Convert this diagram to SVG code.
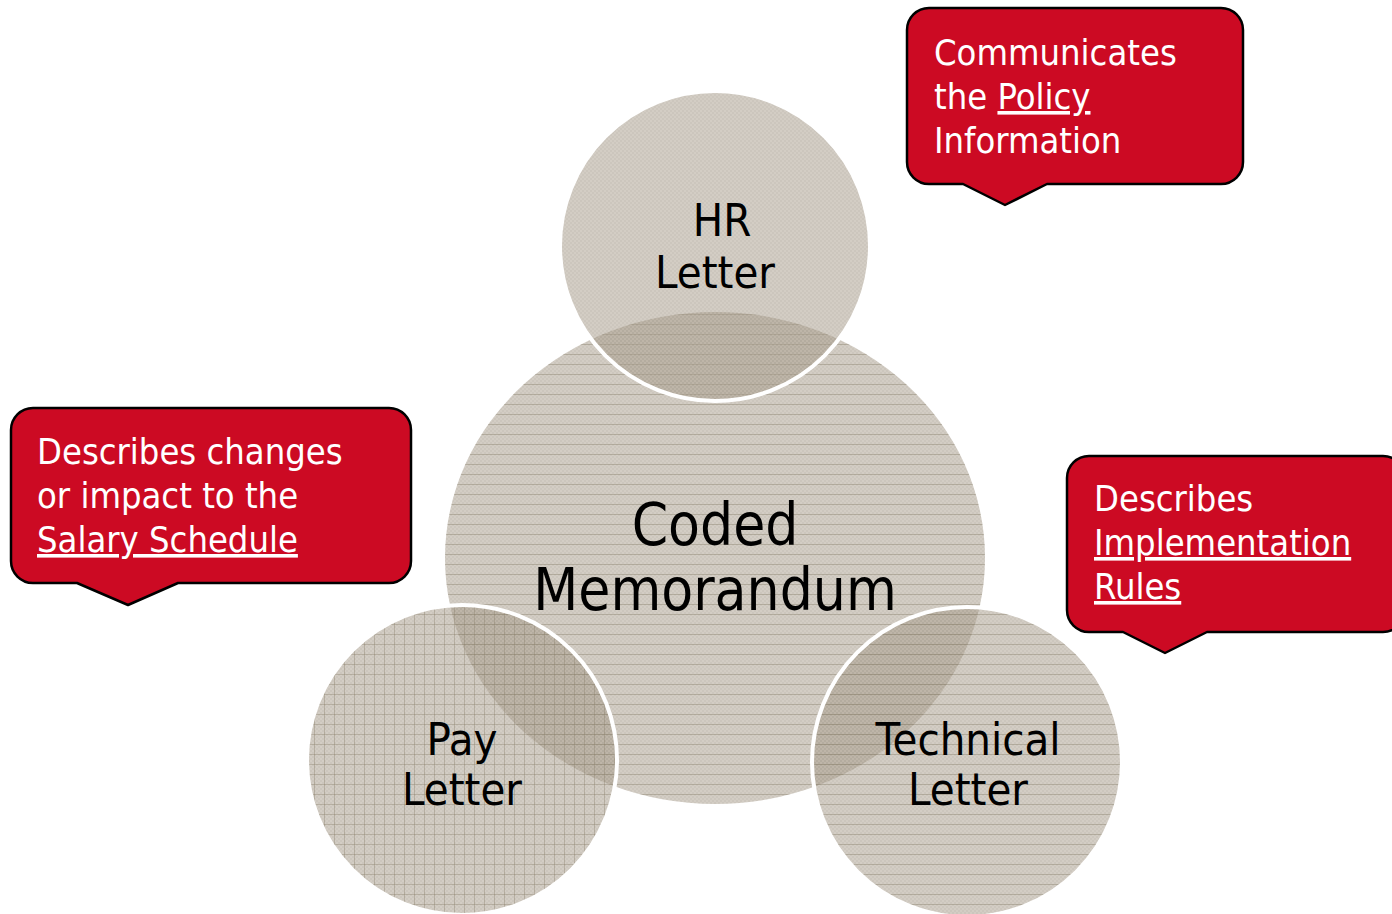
<svg xmlns="http://www.w3.org/2000/svg" width="1392" height="914" viewBox="0 0 1392 914">
  <style>
    .label { font-family: "DejaVu Sans Condensed", "DejaVu Sans", sans-serif; font-stretch: condensed; fill: #000; text-anchor: middle; }
    .note { font-family: "DejaVu Sans Condensed", "DejaVu Sans", sans-serif; font-stretch: condensed; font-size: 36px; fill: #fff; }
    .bubble { fill: #cc0a23; stroke: #000; stroke-width: 2.5; stroke-linejoin: round; }
    .tone { fill: #aba190; fill-opacity: 0.53; }
    .ring { fill: none; stroke: #fff; stroke-width: 4; }
    .u { text-decoration: underline; }
  </style>
  <defs>
    <!-- fine woven texture shared by every disc -->
    <pattern id="weave" width="4" height="4" patternUnits="userSpaceOnUse">
      <rect x="0" y="0" width="2" height="2" fill="#000" fill-opacity="0.035"/>
      <rect x="2" y="2" width="2" height="2" fill="#000" fill-opacity="0.035"/>
    </pattern>
    <!-- horizontal ruling -->
    <pattern id="rules" width="10" height="10" patternUnits="userSpaceOnUse">
      <rect x="0" y="4" width="10" height="1" fill="#8c826f" fill-opacity="0.45"/>
    </pattern>
    <!-- square grid -->
    <pattern id="grid" width="10" height="10" patternUnits="userSpaceOnUse">
      <rect x="0" y="4" width="10" height="1" fill="#8c826f" fill-opacity="0.4"/>
      <rect x="4" y="0" width="1" height="10" fill="#8c826f" fill-opacity="0.4"/>
    </pattern>
  </defs>

  <!-- central disc -->
  <g id="coded-memorandum">
    <ellipse class="tone" cx="715" cy="558" rx="270" ry="246"/>
    <ellipse cx="715" cy="558" rx="270" ry="246" fill="url(#weave)"/>
    <ellipse cx="715" cy="558" rx="270" ry="246" fill="url(#rules)"/>
    <text class="label" font-size="58" x="715" y="545">Coded</text>
    <text class="label" font-size="58" x="715" y="610">Memorandum</text>
  </g>

  <!-- satellite discs -->
  <g id="hr-letter">
    <circle class="tone" cx="715" cy="246" r="155"/>
    <circle cx="715" cy="246" r="155" fill="url(#weave)"/>
    <circle class="ring" cx="715" cy="246" r="155"/>
    <text class="label" font-size="45" x="722" y="236">HR</text>
    <text class="label" font-size="45" x="715" y="288">Letter</text>
  </g>

  <g id="pay-letter">
    <circle class="tone" cx="462" cy="760" r="155"/>
    <circle cx="462" cy="760" r="155" fill="url(#weave)"/>
    <circle cx="462" cy="760" r="155" fill="url(#grid)"/>
    <circle class="ring" cx="462" cy="760" r="155"/>
    <text class="label" font-size="45" x="462" y="755">Pay</text>
    <text class="label" font-size="45" x="462" y="805">Letter</text>
  </g>

  <g id="technical-letter">
    <circle class="tone" cx="967" cy="762" r="155"/>
    <circle cx="967" cy="762" r="155" fill="url(#weave)"/>
    <circle cx="967" cy="762" r="155" fill="url(#rules)"/>
    <circle class="ring" cx="967" cy="762" r="155"/>
    <text class="label" font-size="45" x="968" y="755">Technical</text>
    <text class="label" font-size="45" x="968" y="805">Letter</text>
  </g>

  <!-- speech-bubble notes -->
  <g id="note-policy">
    <path class="bubble" d="M929 8 H1221 A22 22 0 0 1 1243 30 V162 A22 22 0 0 1 1221 184 H1047 L1005 205 L963 184 H929 A22 22 0 0 1 907 162 V30 A22 22 0 0 1 929 8 Z"/>
    <text class="note" x="934" y="65">Communicates</text>
    <text class="note" x="934" y="109">the <tspan class="u">Policy</tspan></text>
    <text class="note" x="934" y="153">Information</text>
  </g>

  <g id="note-salary">
    <path class="bubble" d="M33 408 H389 A22 22 0 0 1 411 430 V561 A22 22 0 0 1 389 583 H178 L128 605 L77 583 H33 A22 22 0 0 1 11 561 V430 A22 22 0 0 1 33 408 Z"/>
    <text class="note" x="37" y="464">Describes changes</text>
    <text class="note" x="37" y="508">or impact to the</text>
    <text class="note" x="37" y="552"><tspan class="u">Salary Schedule</tspan></text>
  </g>

  <g id="note-rules">
    <path class="bubble" d="M1089 456 H1383 A22 22 0 0 1 1405 478 V610 A22 22 0 0 1 1383 632 H1207 L1165 653 L1123 632 H1089 A22 22 0 0 1 1067 610 V478 A22 22 0 0 1 1089 456 Z"/>
    <text class="note" x="1094" y="511">Describes</text>
    <text class="note" x="1094" y="555"><tspan class="u">Implementation</tspan></text>
    <text class="note" x="1094" y="599"><tspan class="u">Rules</tspan></text>
  </g>

  <!-- no connectors in this figure -->
  <g id="connectors"/>
</svg>
